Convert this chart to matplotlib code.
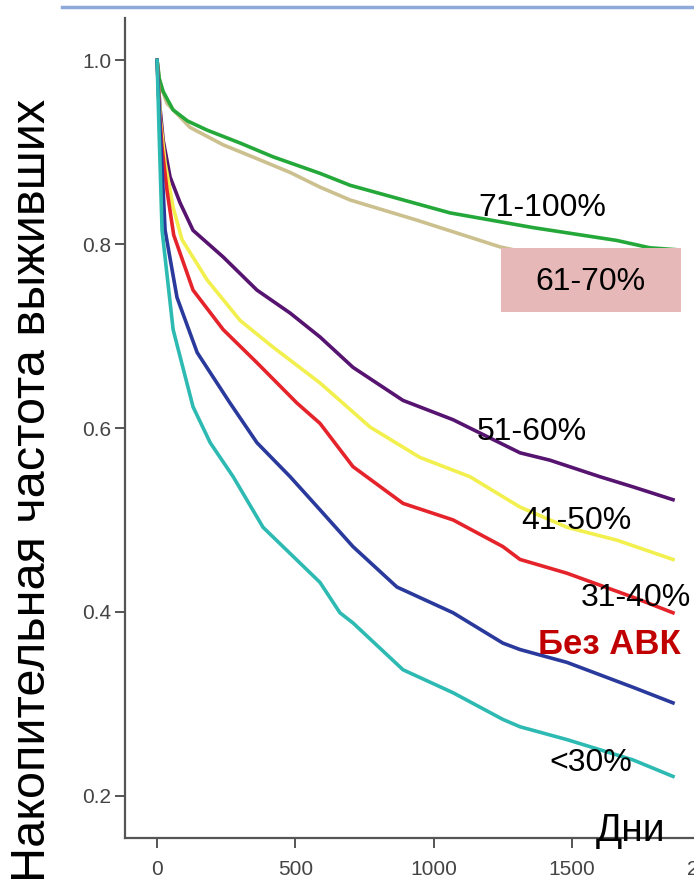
import matplotlib
matplotlib.use("Agg")
import matplotlib.pyplot as plt
from matplotlib.lines import Line2D
from matplotlib.patches import Rectangle

plt.rcParams["font.family"] = ["Liberation Sans", "DejaVu Sans"]

# ── Kaplan-Meier curves (days, cumulative survival) ─────────────────────────
days_71_100 = [0, 8, 22, 58, 110, 181, 300, 419, 589, 698, 1059, 1359, 1662, 1782, 1875]
surv_71_100 = [1.0, 0.980, 0.966, 0.946, 0.934, 0.924, 0.910, 0.895, 0.877, 0.864, 0.834, 0.818, 0.804, 0.796, 0.794]

days_61_70 = [0, 10, 36, 119, 239, 361, 481, 589, 698, 940, 1240, 1500, 1875]
surv_61_70 = [1.0, 0.975, 0.953, 0.927, 0.908, 0.893, 0.878, 0.862, 0.848, 0.826, 0.797, 0.780, 0.760]

days_51_60 = [0, 10, 22, 47, 83, 130, 239, 361, 481, 589, 708, 889, 1070, 1312, 1420, 1601, 1720, 1865]
surv_51_60 = [1.0, 0.950, 0.913, 0.873, 0.845, 0.815, 0.786, 0.750, 0.725, 0.699, 0.666, 0.630, 0.609, 0.573, 0.565, 0.547, 0.536, 0.522]

days_41_50 = [0, 12, 29, 58, 90, 181, 300, 419, 589, 770, 950, 1131, 1312, 1482, 1662, 1865]
surv_41_50 = [1.0, 0.935, 0.888, 0.840, 0.805, 0.761, 0.717, 0.688, 0.649, 0.601, 0.568, 0.547, 0.514, 0.492, 0.478, 0.457]

days_31_40 = [0, 8, 18, 36, 60, 130, 239, 361, 506, 589, 708, 889, 1070, 1250, 1312, 1482, 1720, 1865]
surv_31_40 = [1.0, 0.945, 0.905, 0.858, 0.810, 0.750, 0.707, 0.671, 0.627, 0.605, 0.558, 0.518, 0.500, 0.471, 0.457, 0.442, 0.416, 0.399]

days_no_avk = [0, 11, 29, 72, 145, 264, 361, 481, 589, 708, 867, 1070, 1250, 1312, 1482, 1720, 1865]
surv_no_avk = [1.0, 0.924, 0.815, 0.742, 0.682, 0.627, 0.584, 0.547, 0.511, 0.471, 0.427, 0.399, 0.366, 0.359, 0.345, 0.318, 0.301]

days_lt30 = [0, 7, 18, 58, 130, 192, 275, 383, 589, 661, 708, 889, 1070, 1250, 1312, 1482, 1720, 1865]
surv_lt30 = [1.0, 0.924, 0.815, 0.707, 0.623, 0.584, 0.547, 0.492, 0.432, 0.399, 0.388, 0.337, 0.312, 0.283, 0.275, 0.261, 0.239, 0.221]

y_ticks = [0.2, 0.4, 0.6, 0.8, 1.0]
x_ticks = [0, 500, 1000, 1500, 2000]

curves = [
    (days_61_70, surv_61_70, "#CBC08E"),
    (days_71_100, surv_71_100, "#25A83A"),
    (days_51_60, surv_51_60, "#561470"),
    (days_41_50, surv_41_50, "#F2F04E"),
    (days_31_40, surv_31_40, "#E5232B"),
    (days_no_avk, surv_no_avk, "#2A3A9C"),
    (days_lt30, surv_lt30, "#2DBAB2"),
]

fig = plt.figure(figsize=(6.94, 8.93), dpi=100)
fig.patch.set_facecolor("white")

# axes run past the right edge, like the cropped slide
ax = fig.add_axes([125 / 694, 55 / 893, 613 / 694, 820 / 893])
for d, s, c in curves:
    ax.plot(d, s, color=c, lw=2.6, solid_joinstyle="round", zorder=3)

ax.set_xlim(-116, 2100)
ax.set_ylim(0.154, 1.046)
ax.set_xticks(x_ticks)
ax.set_yticks(y_ticks)
ax.set_xticklabels([str(v) for v in x_ticks])
ax.set_yticklabels([f"{v:.1f}" for v in y_ticks])
ax.tick_params(axis="both", length=7, width=1.4, color="#555555",
               labelcolor="#444444", labelsize=15)
ax.tick_params(axis="y", pad=3)
ax.tick_params(axis="x", pad=9)
for spine in ["top", "right"]:
    ax.spines[spine].set_visible(False)
for spine in ["left", "bottom"]:
    ax.spines[spine].set_color("#555555")
    ax.spines[spine].set_linewidth(1.6)

# group labels
lab = dict(fontsize=23, ha="center", va="center", color="black", zorder=6)
ax.text(1391, 0.839, "71-100%", **lab)
ax.add_patch(Rectangle((1243, 0.726), 651, 0.070, facecolor="#E6B9B8",
                       edgecolor="none", zorder=5, clip_on=False))
ax.text(1568, 0.759, "61-70%", **lab)
ax.text(1355, 0.596, "51-60%", **lab)
ax.text(1514, 0.499, "41-50%", **lab)
ax.text(1731, 0.415, "31-40%", **lab)
ax.text(1634, 0.364, "Без АВК", fontsize=25, fontweight="bold", color="#C00000",
        ha="center", va="center", zorder=6)
ax.text(1569, 0.236, "<30%", **lab)
ax.text(1713, 0.162, "Дни", fontsize=28, ha="center", va="center", color="black", zorder=6)

fig.text(33 / 694, 1 - 490 / 893, "Накопительная частота выживших",
         rotation=90, ha="center", va="center", fontsize=35, color="black")

# slide title underline
fig.add_artist(Line2D([62 / 694, 1.0], [1 - 7 / 893, 1 - 7 / 893],
                      color="#8EAADB", lw=2.5, transform=fig.transFigure))

fig.savefig("out.png", dpi=100)
